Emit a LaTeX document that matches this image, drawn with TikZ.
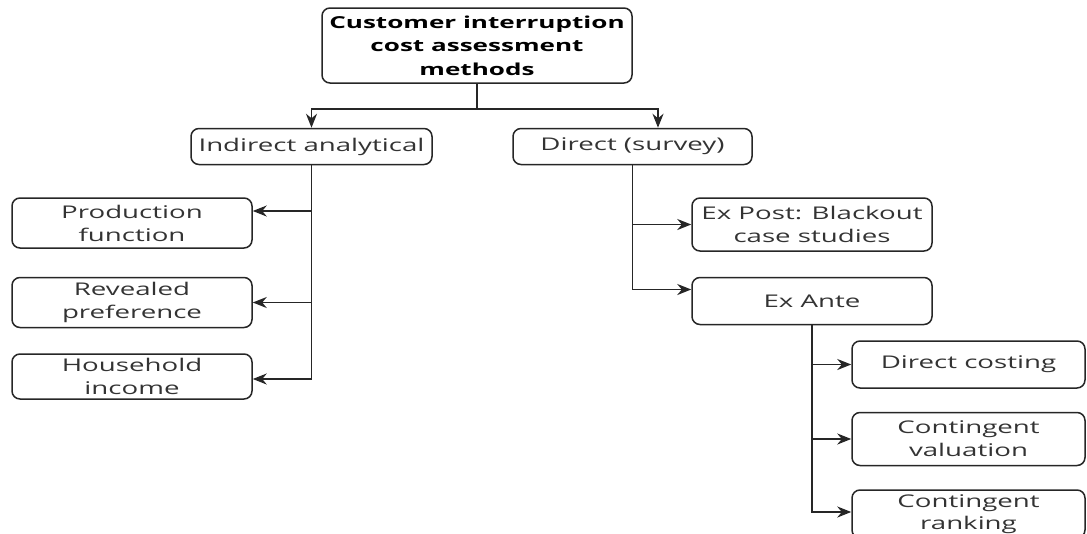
\documentclass[tikz,border=0pt]{standalone}
\usepackage{fontspec}
\setmainfont{Open Sans}[FakeStretch=1.58]
\usetikzlibrary{positioning,arrows.meta}

\begin{document}
\begin{tikzpicture}[x=1pt, y=-1pt, node distance=25pt,
    box/.style={draw=black!85, line width=1.5pt, rounded corners=8pt, align=center,
      text=black!80, minimum width=240pt, minimum height=50pt, inner sep=2pt,
      font=\fontsize{17.5}{23}\selectfont},
    link/.style={draw=black!85, line width=1.8pt},
    arr/.style={link, -{Stealth[length=14pt, width=11pt]}}]
    \useasboundingbox (0,0) rectangle (1087,533);

    % Nodes
    \node[box, text=black, minimum width=310pt, minimum height=75pt,
      font=\fontsize{16.5}{23.5}\selectfont\bfseries] (root) at (477,45.5)
      {Customer interruption\\cost assessment\\methods};
    \node[box, minimum width=241pt, minimum height=36pt, below=44pt of root, xshift=-165.5pt] (ind) {Indirect analytical};
    \node[box, minimum width=239pt, minimum height=36pt, below=44pt of root, xshift=155.5pt] (dir) {Direct (survey)};

    \node[box, below=32pt of ind, xshift=-179.5pt] (prod) {Production\\function};
    \node[box, below=28pt of prod] (rev) {Revealed\\preference};
    \node[box, minimum height=45pt, below=25pt of rev] (house) {Household\\income};

    \node[box, minimum height=53pt, below=32pt of dir, xshift=179.5pt] (post) {Ex Post: Blackout\\case studies};
    \node[box, minimum height=47pt, below=25pt of post] (ante) {Ex Ante};

    \node[box, minimum width=233pt, minimum height=47pt, below=15pt of ante, xshift=156.5pt] (cost) {Direct costing};
    \node[box, minimum width=233pt, minimum height=53pt, below=23pt of cost] (val) {Contingent\\valuation};
    \node[box, minimum width=233pt, minimum height=48pt, below=23pt of val,
      font=\fontsize{17.5}{21.5}\selectfont] (rank) {Contingent\\ranking};

    % Edges
    \draw[link] (root.south) -- ++(0,25) coordinate (split);
    \draw[arr] (split) -| (ind.north);
    \draw[arr] (split) -| ([xshift=25.5pt]dir.north);

    \draw[arr] (ind.south) |- ([yshift=12pt]prod.east);
    \draw[arr] (ind.south) |- (rev.east);
    \draw[arr] (ind.south) |- ([yshift=-2.5pt]house.east);

    \draw[arr] (dir.south) |- (post.west);
    \draw[arr] (dir.south) |- ([yshift=11.5pt]ante.west);

    \draw[arr] (ante.south) |- (cost.west);
    \draw[arr] (ante.south) |- (val.west);
    \draw[arr] (ante.south) |- ([yshift=2pt]rank.west);
  \end{tikzpicture}
\end{document}
